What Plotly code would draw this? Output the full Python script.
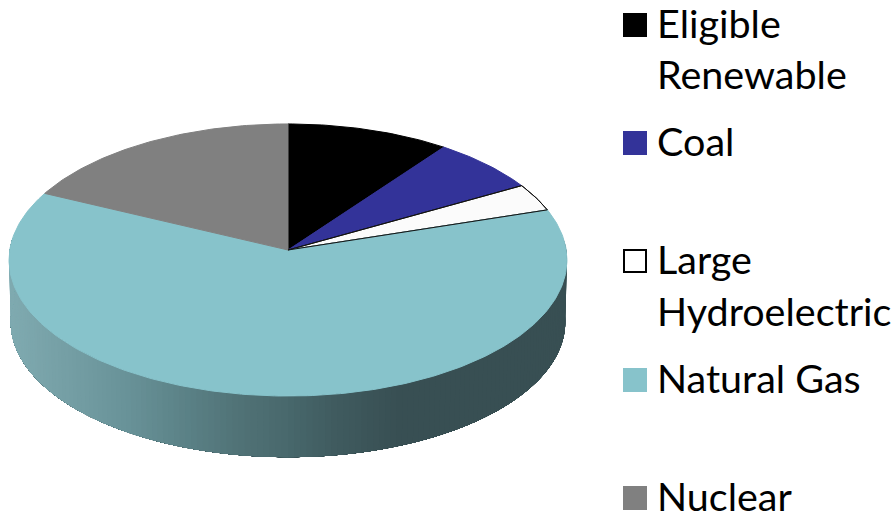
import numpy as np
import plotly.graph_objects as go

categories = ["Eligible Renewable", "Coal", "Large Hydroelectric", "Natural Gas", "Nuclear"]
values = [10.1, 6.7, 3.3, 62.0, 17.9]
colors = ["#000000", "#333399", "#fbfbfb", "#87c3cb", "#808080"]
legend_lines = [["Eligible", "Renewable"], ["Coal"], ["Large", "Hydroelectric"], ["Natural Gas"], ["Nuclear"]]

W, H = 895, 516
CX, CY, RX, RY_B, PERSP = 288.0, 250.0, 278.2, 135.3, 0.0735
DEPTH, SCALE2 = 62.0, 0.994
LEG_SWATCH_X, LEG_TEXT_X = 635, 658
LEG_BASE = [[37, 88], [155], [273, 325], [392], [510]]
FONT = "Lato"
FONT_SIZE = 39.5

def rim(theta, lower=False):
    w = 1 + PERSP * np.cos(theta)
    s = SCALE2 if lower else 1.0
    x = CX + s * RX * np.sin(theta) / w
    y = CY + (DEPTH if lower else 0) - s * RY_B * np.cos(theta) / w
    return x, y

fig = go.Figure()

# side wall (gradient by screen x), painted right-to-left with overlap so no seams show
stops_x = [11, 60, 120, 180, 240, 288, 340, 400, 570]
stops_c = [(127, 170, 176), (118, 160, 166), (106, 148, 154), (92, 131, 136), (80, 114, 118),
           (72, 104, 108), (63, 90, 94), (56, 79, 83), (56, 79, 83)]
edges = np.radians(np.linspace(85, 275, 161))
end = edges[-1]
for a, b in zip(edges[:-1], edges[1:]):
    t = np.linspace(a, end, max(4, int((end - a) * 40)))
    xt, yt = rim(t)
    xb, yb = rim(t[::-1], lower=True)
    xm = float(np.mean(rim(np.array([a, b]))[0]))
    c = [int(round(np.interp(xm, stops_x, [s[i] for s in stops_c]))) for i in range(3)]
    col = f"rgb({c[0]},{c[1]},{c[2]})"
    fig.add_trace(go.Scatter(x=np.r_[xt, xb], y=np.r_[yt, yb], mode="none", fill="toself",
                             fillcolor=col, hoverinfo="skip", showlegend=False))

# top wedges
frac = np.cumsum([0] + values) / sum(values) * 2 * np.pi
for i, cat in enumerate(categories):
    t = np.linspace(frac[i], frac[i + 1], max(3, int(values[i] * 4)))
    xr, yr = rim(t)
    outline = "#111111" if cat == "Large Hydroelectric" else colors[i]
    fig.add_trace(go.Scatter(x=np.r_[CX, xr, CX], y=np.r_[CY, yr, CY], mode="lines", fill="toself",
                             fillcolor=colors[i], line=dict(color=outline, width=1),
                             name=cat, showlegend=False))
# redraw hydro outline above neighbours
i = categories.index("Large Hydroelectric")
t = np.linspace(frac[i], frac[i + 1], 14)
xr, yr = rim(t)
fig.add_trace(go.Scatter(x=np.r_[CX, xr, CX], y=np.r_[CY, yr, CY], mode="lines",
                         line=dict(color="#111111", width=1), hoverinfo="skip", showlegend=False))

# legend
for i, cat in enumerate(categories):
    base = LEG_BASE[i]
    is_hollow = colors[i] == "#fbfbfb"
    fig.add_trace(go.Scatter(x=[LEG_SWATCH_X], y=[base[0] - 12], mode="markers", showlegend=False, hoverinfo="skip",
                             marker=dict(symbol="square", size=22 if is_hollow else 24, color="#ffffff" if is_hollow else colors[i],
                                         line=dict(color="#000000", width=2) if is_hollow else dict(width=0))))
    for line, yb in zip(legend_lines[i], base):
        fig.add_annotation(x=LEG_TEXT_X, y=yb, text=line, showarrow=False, xanchor="left", yanchor="bottom",
                           xref="x", yref="y", xshift=-2, yshift=-10, align="left",
                           borderpad=0, font=dict(family=FONT, size=FONT_SIZE, color="#000000"))

fig.update_xaxes(range=[0, W], visible=False, fixedrange=True)
fig.update_yaxes(range=[H, 0], visible=False, fixedrange=True)
fig.update_layout(width=W, height=H, margin=dict(l=0, r=0, t=0, b=0), paper_bgcolor="#ffffff",
                  plot_bgcolor="#ffffff", showlegend=False)
fig.write_html("out.html", config={"displayModeBar": False},
               post_script="document.body.style.margin='0';document.body.style.overflow='hidden';")
